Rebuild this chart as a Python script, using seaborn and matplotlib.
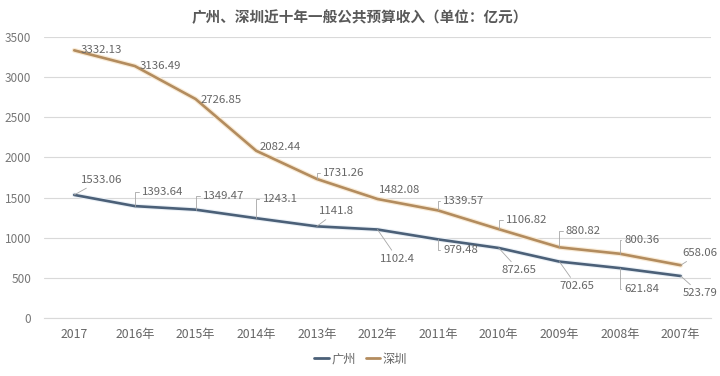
import pandas as pd
import matplotlib.pyplot as plt
import matplotlib.patheffects as pe
from matplotlib.lines import Line2D
import seaborn as sns

# 数据（亿元）
years = ['2017', '2016年', '2015年', '2014年', '2013年', '2012年',
         '2011年', '2010年', '2009年', '2008年', '2007年']
guangzhou = [1533.06, 1393.64, 1349.47, 1243.1, 1141.8, 1102.4,
             979.48, 872.65, 702.65, 621.84, 523.79]
shenzhen = [3332.13, 3136.49, 2726.85, 2082.44, 1731.26, 1482.08,
            1339.57, 1106.82, 880.82, 800.36, 658.06]

# 标签偏移（像素）与引导线类型
gz_offsets = [(27, 15), (28, 14), (28, 14), (24, 19), (20, 15), (20, -29),
              (23, -11), (20, -22), (17, -24), (22, -21), (19, -17)]
sz_offsets = [(27, 0), (25, 0), (26, -1), (24, 4), (27, 6), (22, 9),
              (26, 9), (28, 9), (24, 16), (22, 14), (19, 12)]
gz_leader = ['line', 'angle', 'angle', 'angle', 'line', 'line',
             'angle', 'line', 'line', 'angle', 'line']
sz_leader = [None, None, None, None, 'angle', None,
             'angle', 'angle', 'angle', 'angle', 'line']

df = pd.DataFrame({
    'year': years * 2,
    'value': guangzhou + shenzhen,
    'city': ['广州'] * len(years) + ['深圳'] * len(years),
})

sns.set_style('white')
plt.rcParams['font.family'] = ['Noto Sans CJK SC', 'DejaVu Sans']

fig = plt.figure(figsize=(7.2, 3.76), dpi=100)
ax = fig.add_axes([0.061, 0.154, 0.9265, 0.748])

colors = {'广州': '#4b6078', '深圳': '#b38c5e'}
sns.lineplot(data=df, x='year', y='value', hue='city', palette=colors,
             linewidth=1.9, sort=False, ax=ax, legend=False)

for line in ax.get_lines():
    if line.get_color() == colors['深圳']:
        line.set_path_effects([pe.Stroke(linewidth=3.6, foreground='#f9ebd6'), pe.Normal()])
    else:
        line.set_path_effects([pe.Stroke(linewidth=3.4, foreground='#eaf0f6'), pe.Normal()])

gray = '#666666'
for vals, offs, leads in [(guangzhou, gz_offsets, gz_leader), (shenzhen, sz_offsets, sz_leader)]:
    for i, v in enumerate(vals):
        txt = f'{v:g}'
        ap = None
        if leads[i] == 'line':
            ap = dict(arrowstyle='-', color='#a6a6a6', lw=0.6, shrinkA=0, shrinkB=0)
        elif leads[i] == 'angle':
            ap = dict(arrowstyle='-', color='#a6a6a6', lw=0.6, shrinkA=0, shrinkB=0,
                      connectionstyle='angle,angleA=0,angleB=90,rad=0')
        ax.annotate(txt, xy=(i, v), xytext=offs[i], textcoords='offset pixels',
                    ha='center', va='center', fontsize=8.2, color=gray,
                    arrowprops=ap)

ax.set_xlim(-0.5, len(years) - 0.5)
ax.set_ylim(0, 3500)
ax.set_yticks(range(0, 3501, 500))
ax.yaxis.grid(True, color='#d9d9d9', linewidth=0.8)
ax.set_axisbelow(True)
for s in ['top', 'right', 'left']:
    ax.spines[s].set_visible(False)
ax.spines['bottom'].set_color('#d9d9d9')
ax.tick_params(axis='y', length=0, pad=9, labelsize=8.5, labelcolor='#777777')
ax.tick_params(axis='x', length=0, pad=7, labelsize=8.8, labelcolor='#666666')
ax.set_xlabel('')
ax.set_ylabel('')

fig.suptitle('广州、深圳近十年一般公共预算收入（单位：亿元）', x=0.5, y=0.975,
             fontsize=10.5, color='#595959', fontweight='bold')

handles = [Line2D([], [], color=colors[c], linewidth=2) for c in ['广州', '深圳']]
leg = ax.legend(handles, ['广州', '深圳'], loc='center', bbox_to_anchor=(0.475, -0.146),
                ncol=2, frameon=False, fontsize=8.8, handlelength=1.2,
                handletextpad=0.2, columnspacing=0.8)
for t in leg.get_texts():
    t.set_color('#666666')

fig.savefig('out.png', dpi=100)
